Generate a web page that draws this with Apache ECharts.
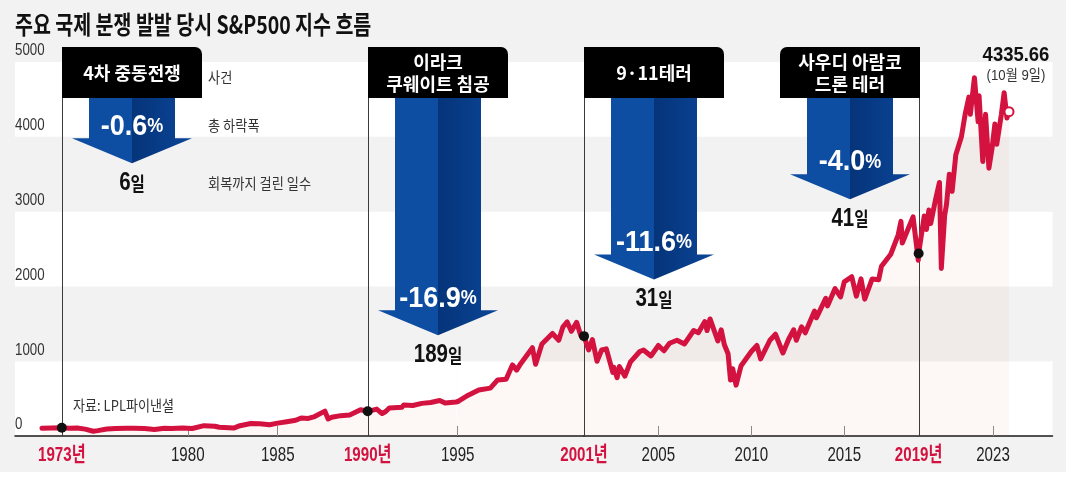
<!DOCTYPE html>
<html>
<head>
<meta charset="utf-8">
<script src="https://cdn.jsdelivr.net/npm/echarts@6/dist/echarts.min.js"></script>
<style>html,body{margin:0;padding:0;background:#f2f2f2;}#c{width:1066px;height:478px;}</style>
</head>
<body>
<div id="c"></div>
<script>
// ---------- data ----------
const lineYears = [1971.9,1972.4,1973.0,1973.4,1973.85,1974.3,1974.75,1975.0,1975.5,1976.0,1976.6,1977.0,1977.6,1978.15,1978.7,1979.1,1979.7,1980.25,1980.9,1981.5,1981.75,1982.55,1982.9,1983.5,1984.0,1984.55,1985.0,1985.5,1986.0,1986.3,1986.7,1987.0,1987.62,1987.8,1988.0,1988.5,1989.0,1989.6,1990.0,1990.5,1990.8,1991.0,1991.2,1991.9,1992.0,1992.5,1993.0,1993.5,1994.0,1994.3,1994.9,1995.0,1995.5,1996.0,1996.55,1996.9,1997.3,1997.6,1997.8,1998.0,1998.55,1998.7,1999.0,1999.5,1999.8,2000.0,2000.2,2000.4,2000.65,2000.85,2001.0,2001.25,2001.45,2001.7,2001.95,2002.2,2002.55,2002.6,2002.78,2002.9,2003.2,2003.5,2004.0,2004.2,2004.6,2005.0,2005.3,2005.6,2006.0,2006.4,2006.9,2007.15,2007.5,2007.62,2007.78,2008.2,2008.38,2008.55,2008.75,2008.88,2009.0,2009.18,2009.45,2010.0,2010.3,2010.5,2011.0,2011.3,2011.7,2012.0,2012.28,2012.42,2012.7,2012.9,2013.4,2013.5,2014.0,2014.1,2014.5,2014.8,2015.0,2015.4,2015.65,2015.9,2016.1,2016.5,2016.85,2017.0,2017.5,2017.9,2018.05,2018.12,2018.7,2018.98,2019.0,2019.3,2019.42,2019.55,2019.65,2019.9,2020.12,2020.22,2020.4,2020.5,2020.65,2020.8,2021.0,2021.3,2021.5,2021.7,2021.78,2022.0,2022.2,2022.25,2022.45,2022.6,2022.78,2022.95,2023.1,2023.2,2023.45,2023.6,2023.75,2023.86];
const lineValues = [103,108,110,105,108,92,64,72,94,100,104,103,99,88,104,99,108,100,138,131,117,106,138,167,164,151,172,191,210,240,235,255,333,228,250,272,282,350,330,360,300,328,375,385,415,408,436,448,475,440,455,460,545,615,640,750,760,950,880,970,1180,960,1230,1370,1280,1460,1525,1400,1520,1340,1335,1150,1290,1000,1150,1165,850,920,780,930,800,990,1130,1150,1070,1210,1140,1240,1280,1230,1410,1380,1530,1410,1565,1270,1420,1220,1100,750,900,680,940,1130,1210,1030,1280,1360,1110,1290,1420,1280,1460,1380,1670,1580,1840,1740,1970,1860,2060,2130,1870,2100,1830,2100,2090,2270,2430,2690,2870,2580,2930,2350,2440,2940,2760,3020,2840,3150,3390,2240,2950,3100,3500,3270,3760,4000,4300,4530,4300,4790,4200,4550,3670,4300,3580,3850,4170,3900,4300,4590,4250,4336];
const lastValueLabel = '4335.66';
const lastDateLabel = '(10월 9일)';

const eventYears = [1973, 1990, 2001, 2019];
const eventValues = [110, 330, 1335, 2440];
const eventNames = ['4차 중동전쟁', '이라크\n쿠웨이트 침공', '9·11테러', '사우디 아람코\n드론 테러'];
const eventDrops = [-0.6, -16.9, -11.6, -4.0];
const eventDays = [6, 189, 31, 41];

const yTicks = [0, 1000, 2000, 3000, 4000, 5000];
const xTicksA = [1980, 1985];
const xLabelsA = [1973, 1980, 1985, 1990];
const xTicksB = [1995];
const xLabelsB = [1995];
const xTicksC = [2005, 2010, 2015, 2023];
const xLabelsC = [2001, 2005, 2010, 2015, 2019, 2023];
const highlightYears = [1973, 1990, 2001, 2019];

const titleText = '주요 국제 분쟁 발발 당시 S&P500 지수 흐름';
const sourceText = '자료: LPL파이낸셜';
const legendTexts = ['사건', '총 하락폭', '회복까지 걸린 일수'];

// ---------- style / layout ----------
const RED = '#d3123f';
const SANS = "'Liberation Sans', Arial, 'Noto Sans CJK KR', sans-serif";
const CJK = "'Noto Sans CJK KR', 'Noto Sans', sans-serif";
const boxOnLeft = [false, false, false, true];
const X_MIN = [1970.4, 1995, 2001];
const X_MAX = [1995, 2001, 2026.2];

const chart = echarts.init(document.getElementById('c'), null, {renderer: 'canvas'});

function seg(a, b) {
  const out = [];
  for (let i = 0; i < lineYears.length; i++) {
    if (lineYears[i] >= a && lineYears[i] <= b) out.push([lineYears[i], lineValues[i]]);
  }
  return out;
}

function xAxisCfg(idx, ticks) {
  return {
    type: 'value', gridIndex: idx, min: X_MIN[idx], max: X_MAX[idx],
    axisLine: {show: true, onZero: false, lineStyle: {color: '#1a1a1a', width: 1.5}},
    axisTick: {show: true, inside: true, length: 10, customValues: ticks, lineStyle: {color: '#8c8c8c', width: 1}},
    axisLabel: {show: false},
    splitLine: {show: false}
  };
}

function yAxisCfg(idx) {
  return {
    type: 'value', gridIndex: idx, min: 0, max: 5000, interval: 1000,
    axisLine: {show: false}, axisTick: {show: false}, axisLabel: {show: false},
    splitLine: {show: false},
    splitArea: {show: true, areaStyle: {color: ['#ffffff', '#f2f2f2']}}
  };
}

function lineSeries(idx, data) {
  return {
    type: 'line', xAxisIndex: idx, yAxisIndex: idx, data: data,
    showSymbol: false, symbol: 'none', clip: false, z: 3,
    lineStyle: {color: RED, width: 5, cap: 'round', join: 'round'},
    areaStyle: {color: 'rgba(215,70,50,0.06)'}
  };
}

// x-axis year labels, placed by the axis scale
function renderXLabel(params, api) {
  const yr = api.value(0);
  const p = api.coord([yr, 0]);
  const hl = highlightYears.indexOf(yr) >= 0;
  return {
    type: 'text', x: p[0], y: p[1] + 19, scaleX: 0.72,
    style: {text: hl ? yr + '년' : String(yr), x: 0, y: 0, align: 'center', verticalAlign: 'middle',
      fill: hl ? RED : '#222', fontSize: 21, fontWeight: hl ? 'bold' : 'normal', fontFamily: SANS}
  };
}
// y-axis value labels
function renderYLabel(params, api) {
  const v = api.value(1);
  const p = api.coord([api.value(0), v]);
  return {
    type: 'text', x: p[0], y: p[1] - 3, scaleX: 0.83,
    style: {text: String(v), x: 0, y: 0, align: 'left', verticalAlign: 'bottom',
      fill: '#333', fontSize: 16, fontFamily: SANS}
  };
}

function renderEvent(params, api) {
  const i = api.value(1);
  const p0 = api.coord([api.value(0), 0]);
  const p5 = api.coord([api.value(0), 5000]);
  const x = Math.round(p0[0]) + 0.5;
  const axisY = p0[1];
  const top = p5[1] - 15;
  const boxW = 140, boxH = 51;
  const left = boxOnLeft[i];
  const x0 = left ? x + 0.5 - boxW : x - 0.5;
  const cx = x0 + boxW / 2;
  const shaftTop = top + boxH;
  const sb = shaftTop + 34 + 10.55 * Math.abs(eventDrops[i]);
  const tip = sb + 25;
  const hw = 43, hh = 60;
  const grad = new echarts.graphic.LinearGradient(0, 0, 1, 0, [
    {offset: 0, color: '#0d4da2'}, {offset: 0.5, color: '#0d4da2'},
    {offset: 0.5, color: '#053479'}, {offset: 1, color: '#0b4598'}
  ]);
  return {
    type: 'group',
    children: [
      {type: 'line', shape: {x1: x, y1: top, x2: x, y2: axisY}, style: {stroke: '#3a3a3a', lineWidth: 1}},
      {type: 'rect', shape: {x: x0, y: top, width: boxW, height: boxH, r: left ? [7, 0, 0, 0] : [0, 7, 0, 0]}, style: {fill: '#000'}},
      {type: 'text', style: {text: eventNames[i], x: cx, y: top + boxH / 2 + 1, align: 'center', verticalAlign: 'middle',
        fill: '#fff', fontSize: 18, fontWeight: 'bold', fontFamily: CJK, lineHeight: 22}},
      {type: 'polygon', shape: {points: [[cx - hw, shaftTop], [cx + hw, shaftTop], [cx + hw, sb], [cx + hh, sb], [cx, tip], [cx - hh, sb], [cx - hw, sb]]},
        style: {fill: grad}},
      {type: 'text', x: cx, y: sb - 12, scaleX: 0.9,
        style: {text: '{n|' + eventDrops[i].toFixed(1) + '}{p|%}', x: 0, y: 0, align: 'center', verticalAlign: 'middle',
        rich: {n: {fill: '#fff', color: '#fff', fontSize: 30, fontWeight: 'bold', fontFamily: SANS},
               p: {fill: '#fff', color: '#fff', fontSize: 20, fontWeight: 'bold', fontFamily: SANS}}}},
      {type: 'text', x: cx, y: tip + 20, scaleX: 0.82,
        style: {text: '{n|' + eventDays[i] + '}{d|일}', x: 0, y: 0, align: 'center', verticalAlign: 'middle',
        rich: {n: {fill: '#111', color: '#111', fontSize: 25, fontWeight: 'bold', fontFamily: SANS},
               d: {fill: '#111', color: '#111', fontSize: 19, fontWeight: 'bold', fontFamily: CJK}}}}
    ]
  };
}

function evData(years) {
  return years.map(function (y) { return [y, eventYears.indexOf(y)]; });
}
function dotData(years) {
  return years.map(function (y) { return [y, eventValues[eventYears.indexOf(y)]]; });
}
function labelSeries(idx, years) {
  return {type: 'custom', xAxisIndex: idx, yAxisIndex: idx, clip: false, z: 4, silent: true,
    renderItem: renderXLabel, data: years.map(function (y) { return [y, 0]; })};
}

const option = {
  backgroundColor: '#f2f2f2',
  animation: false,
  grid: [
    {left: 15, top: 62, width: 442.7, height: 374, outerBoundsMode: 'none'},
    {left: 457.7, top: 62, width: 126.3, height: 374, outerBoundsMode: 'none'},
    {left: 584, top: 62, width: 468.5, height: 374, outerBoundsMode: 'none'}
  ],
  xAxis: [xAxisCfg(0, xTicksA), xAxisCfg(1, xTicksB), xAxisCfg(2, xTicksC)],
  yAxis: [yAxisCfg(0), yAxisCfg(1), yAxisCfg(2)],
  series: [
    {type: 'custom', xAxisIndex: 0, yAxisIndex: 0, clip: false, z: 1, renderItem: renderEvent, data: evData([1973, 1990]), silent: true},
    {type: 'custom', xAxisIndex: 2, yAxisIndex: 2, clip: false, z: 1, renderItem: renderEvent, data: evData([2001, 2019]), silent: true},
    lineSeries(0, seg(1970, 1995)),
    lineSeries(1, seg(1995, 2001)),
    lineSeries(2, seg(2001, 2030)),
    {type: 'scatter', xAxisIndex: 0, yAxisIndex: 0, data: dotData([1973, 1990]), symbolSize: 10, itemStyle: {color: '#111', opacity: 1}, z: 5},
    {type: 'scatter', xAxisIndex: 2, yAxisIndex: 2, data: dotData([2001, 2019]), symbolSize: 10, itemStyle: {color: '#111', opacity: 1}, z: 5},
    {type: 'scatter', xAxisIndex: 2, yAxisIndex: 2, data: [[lineYears[lineYears.length - 1], lineValues[lineValues.length - 1]]],
      symbolSize: 9, itemStyle: {color: '#fff', borderColor: RED, borderWidth: 2, opacity: 1}, z: 6},
    labelSeries(0, xLabelsA),
    labelSeries(1, xLabelsB),
    labelSeries(2, xLabelsC),
    {type: 'custom', xAxisIndex: 0, yAxisIndex: 0, clip: false, z: 4, silent: true, renderItem: renderYLabel,
      data: yTicks.map(function (v) { return [X_MIN[0], v]; })}
  ],
  graphic: [
    {type: 'rect', left: 0, top: 472, shape: {width: 1066, height: 6}, style: {fill: '#ffffff'}, z: 100},
    {type: 'text', x: 15, y: 24, scaleX: 0.78, z: 100, style: {text: titleText, align: 'left', verticalAlign: 'middle', fill: '#111', fontSize: 25, fontWeight: 'bold', fontFamily: CJK}},
    {type: 'text', x: 208, y: 77, scaleX: 0.88, z: 100, style: {text: legendTexts[0], align: 'left', verticalAlign: 'middle', fill: '#333', fontSize: 15, fontFamily: CJK}},
    {type: 'text', x: 208, y: 125, scaleX: 0.88, z: 100, style: {text: legendTexts[1], align: 'left', verticalAlign: 'middle', fill: '#333', fontSize: 15, fontFamily: CJK}},
    {type: 'text', x: 208, y: 183, scaleX: 0.88, z: 100, style: {text: legendTexts[2], align: 'left', verticalAlign: 'middle', fill: '#333', fontSize: 15, fontFamily: CJK}},
    {type: 'text', x: 73, y: 405, scaleX: 0.87, z: 100, style: {text: sourceText, align: 'left', verticalAlign: 'middle', fill: '#333', fontSize: 15, fontFamily: CJK}},
    {type: 'text', x: 1016, y: 55, scaleX: 0.88, z: 100, style: {text: lastValueLabel, x: 0, y: 0, align: 'center', verticalAlign: 'middle', fill: '#111', fontSize: 21, fontWeight: 'bold', fontFamily: SANS}},
    {type: 'text', x: 1016, y: 76, scaleX: 0.88, z: 100, style: {text: lastDateLabel, x: 0, y: 0, align: 'center', verticalAlign: 'middle', fill: '#333', fontSize: 15, fontFamily: SANS}}
  ]
};
chart.setOption(option);
</script>
</body>
</html>
